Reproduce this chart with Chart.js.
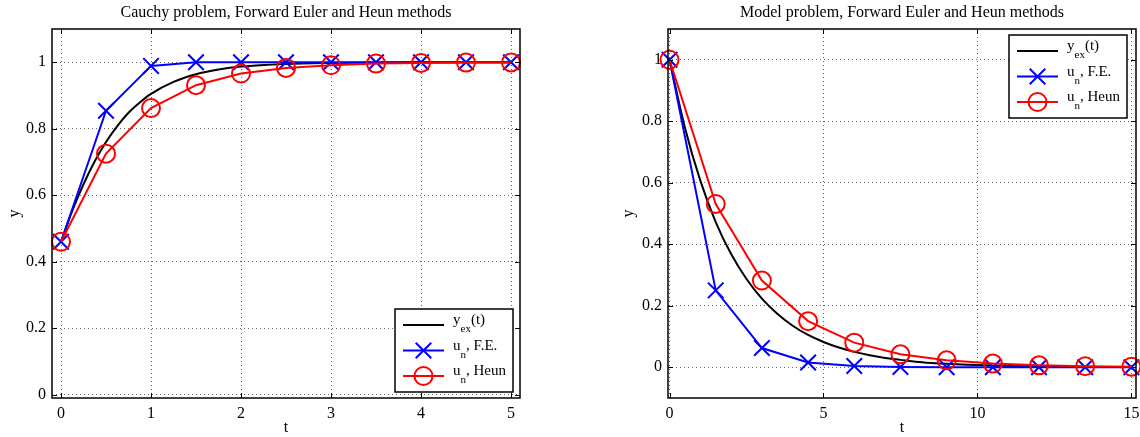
<!DOCTYPE html>
<html>
<head>
<meta charset="utf-8">
<title>Forward Euler and Heun methods</title>
<script src="https://cdn.jsdelivr.net/npm/chart.js@4.4.0/dist/chart.umd.min.js"></script>
<style>
  body { margin: 0; background: #fff; }
  #wrap { position: relative; width: 1140px; height: 437px; overflow: hidden; }
  canvas { position: absolute; top: 0; }
  #cauchyChart { left: 0; }
  #modelChart { left: 570px; }
</style>
</head>
<body>
<div id="wrap">
  <canvas id="cauchyChart" width="570" height="437"></canvas>
  <canvas id="modelChart" width="600" height="437"></canvas>
</div>
<script>
'use strict';

// left panel: Cauchy problem
let cauchyExactT = [0, 0.125, 0.25, 0.375, 0.5, 0.625, 0.75, 0.875, 1, 1.25, 1.5, 1.75, 2, 2.5, 3, 3.5, 4, 4.5, 5];
let cauchyExactY = [0.46, 0.553, 0.633, 0.702, 0.760, 0.808, 0.848, 0.879, 0.905, 0.941, 0.964, 0.978, 0.987, 0.995, 0.998, 0.9993, 0.9997, 0.9999, 1.0];
let cauchyStepT = [0, 0.5, 1, 1.5, 2, 2.5, 3, 3.5, 4, 4.5, 5];
let cauchyEuler = [0.46, 0.854, 0.989, 1.0, 1.0, 1.0, 1.0, 1.0, 1.0, 1.0, 1.0];
let cauchyHeun = [0.46, 0.725, 0.862, 0.931, 0.966, 0.983, 0.991, 0.996, 0.998, 0.999, 0.9995];
let cauchyXTicks = [0, 1, 2, 3, 4, 5];
let cauchyYTicks = [0, 0.2, 0.4, 0.6, 0.8, 1];

// right panel: model problem
let modelExactT = [0, 0.5, 1, 1.5, 2, 2.5, 3, 3.5, 4, 4.5, 5, 5.5, 6, 6.5, 7, 7.5, 8, 8.5, 9, 9.5, 10, 11, 12, 13, 14, 15];
let modelExactY = [1, 0.779, 0.607, 0.472, 0.368, 0.287, 0.223, 0.174, 0.135, 0.105, 0.082, 0.064, 0.050, 0.039, 0.030, 0.024, 0.018, 0.014, 0.011, 0.009, 0.007, 0.004, 0.0025, 0.0015, 0.0009, 0.0006];
let modelStepT = [0, 1.5, 3, 4.5, 6, 7.5, 9, 10.5, 12, 13.5, 15];
let modelEuler = [1, 0.25, 0.0625, 0.0156, 0.0039, 0.001, 0.0002, 0.0001, 0, 0, 0];
let modelHeun = [1, 0.531, 0.282, 0.150, 0.080, 0.042, 0.0225, 0.012, 0.0063, 0.0034, 0.0018];
let modelXTicks = [0, 5, 10, 15];
let modelYTicks = [0, 0.2, 0.4, 0.6, 0.8, 1];

let legendLabels = [
  { main: 'y', sub: 'ex', rest: '(t)' },
  { main: 'u', sub: 'n', rest: ', F.E.' },
  { main: 'u', sub: 'n', rest: ', Heun' }
];

let serif = "'Liberation Serif', 'Times New Roman', serif";
Chart.defaults.font.family = serif;
Chart.defaults.font.size = 16;
Chart.defaults.color = '#000';

function toPoints(xs, ys) {
  return xs.map((x, i) => ({ x: x, y: ys[i] }));
}

function drawCross(ctx, x, y, r) {
  let d = r * Math.SQRT1_2;
  ctx.beginPath();
  ctx.moveTo(x - d, y - d); ctx.lineTo(x + d, y + d);
  ctx.moveTo(x - d, y + d); ctx.lineTo(x + d, y - d);
  ctx.stroke();
}

// box round the axes, inward ticks and the legend, like matlab draws them
let matlabBox = {
  id: 'matlabBox',
  afterDraw(chart, args, opts) {
    let ctx = chart.ctx;
    let a = chart.chartArea;
    let xs = chart.scales.x;
    let ys = chart.scales.y;
    ctx.save();
    ctx.strokeStyle = '#000';
    ctx.lineWidth = 1;
    ctx.beginPath();
    xs.ticks.forEach(t => {
      let px = Math.round(xs.getPixelForValue(t.value)) + 0.5;
      ctx.moveTo(px, a.bottom); ctx.lineTo(px, a.bottom - 5);
      ctx.moveTo(px, a.top); ctx.lineTo(px, a.top + 5);
    });
    ys.ticks.forEach(t => {
      let py = Math.round(ys.getPixelForValue(t.value)) + 0.5;
      ctx.moveTo(a.left, py); ctx.lineTo(a.left + 5, py);
      ctx.moveTo(a.right, py); ctx.lineTo(a.right - 5, py);
    });
    ctx.stroke();
    ctx.lineWidth = 1.5;
    ctx.strokeRect(a.left, a.top, a.right - a.left, a.bottom - a.top);

    // legend
    let w = 118, h = 83;
    let left = a.right - opts.gapRight - w;
    let top = opts.corner === 'bottom' ? a.bottom - opts.gapY - h : a.top + opts.gapY;
    ctx.fillStyle = '#fff';
    ctx.fillRect(left, top, w, h);
    ctx.strokeRect(left, top, w, h);
    let rows = [16, 41.5, 67];
    chart.data.datasets.forEach((ds, i) => {
      let cy = top + rows[i];
      ctx.strokeStyle = ds.borderColor;
      ctx.lineWidth = 2;
      ctx.beginPath();
      ctx.moveTo(left + 8, cy); ctx.lineTo(left + 49, cy);
      ctx.stroke();
      if (ds.pointStyle === 'crossRot') {
        drawCross(ctx, left + 28.5, cy, 11);
      } else if (ds.pointRadius > 0) {
        ctx.beginPath();
        ctx.arc(left + 28.5, cy, 9, 0, Math.PI * 2);
        ctx.stroke();
      }
      let lab = legendLabels[i];
      let tx = left + 58;
      ctx.fillStyle = '#000';
      ctx.textBaseline = 'alphabetic';
      ctx.textAlign = 'left';
      ctx.font = '15px ' + serif;
      ctx.fillText(lab.main, tx, cy - 1);
      tx += ctx.measureText(lab.main).width;
      ctx.font = '11px ' + serif;
      ctx.fillText(lab.sub, tx, cy + 7);
      tx += ctx.measureText(lab.sub).width;
      ctx.font = '15px ' + serif;
      ctx.fillText(lab.rest, tx, cy - 1);
    });
    ctx.restore();
  }
};

function makeChart(id, cfg) {
  let datasets = [
    {
      label: 'y_ex(t)',
      data: toPoints(cfg.exactT, cfg.exactY),
      borderColor: '#000000',
      borderWidth: 2,
      pointRadius: 0,
      cubicInterpolationMode: 'monotone',
      clip: false,
      order: 3
    },
    {
      label: 'u_n, F.E.',
      data: toPoints(cfg.stepT, cfg.euler),
      borderColor: '#0000ff',
      borderWidth: 2,
      pointStyle: 'crossRot',
      pointRadius: 11,
      pointBorderWidth: 2,
      pointBorderColor: '#0000ff',
      pointBackgroundColor: 'rgba(0,0,0,0)',
      clip: false,
      order: 2
    },
    {
      label: 'u_n, Heun',
      data: toPoints(cfg.stepT, cfg.heun),
      borderColor: '#ff0000',
      borderWidth: 2,
      pointStyle: 'circle',
      pointRadius: 9,
      pointBorderWidth: 2,
      pointBorderColor: '#ff0000',
      pointBackgroundColor: 'rgba(0,0,0,0)',
      clip: false,
      order: 1
    }
  ];

  let gridStyle = { color: 'rgba(0,0,0,0.6)', lineWidth: 1, drawTicks: false };

  return new Chart(document.getElementById(id), {
    type: 'line',
    data: { datasets: datasets },
    options: {
      responsive: false,
      animation: false,
      events: [],
      layout: { padding: cfg.padding },
      plugins: {
        legend: { display: false },
        tooltip: { enabled: false },
        title: {
          display: true,
          text: cfg.title,
          fullSize: false,
          color: '#000',
          font: { size: 16, weight: 'normal', lineHeight: 1.2 },
          padding: { top: 3, bottom: 6.8 }
        },
        matlabBox: cfg.legend
      },
      scales: {
        x: {
          type: 'linear',
          min: cfg.xMin,
          max: cfg.xMax,
          grid: gridStyle,
          border: { display: false, dash: [1, 3] },
          ticks: { padding: 6, font: { size: 16 }, callback: v => String(v) },
          afterBuildTicks: s => { s.ticks = cfg.xTicks.map(v => ({ value: v })); },
          afterFit: s => { s.height = 39; s.paddingLeft = 0; s.paddingRight = 0; },
          title: { display: true, text: 't', font: { size: 16 }, padding: { top: 0, bottom: 0 } }
        },
        y: {
          type: 'linear',
          min: cfg.yMin,
          max: cfg.yMax,
          grid: gridStyle,
          border: { display: false, dash: [1, 3] },
          ticks: { padding: 6, font: { size: 16 }, callback: v => String(v) },
          afterBuildTicks: s => { s.ticks = cfg.yTicks.map(v => ({ value: v })); },
          afterFit: s => { s.width = cfg.yWidth; s.paddingTop = 0; s.paddingBottom = 0; },
          title: { display: true, text: 'y', font: { size: 16 }, padding: { top: 5, bottom: 0 } }
        }
      }
    },
    plugins: [matlabBox]
  });
}

makeChart('cauchyChart', {
  title: 'Cauchy problem, Forward Euler and Heun methods',
  exactT: cauchyExactT, exactY: cauchyExactY,
  stepT: cauchyStepT, euler: cauchyEuler, heun: cauchyHeun,
  xTicks: cauchyXTicks, yTicks: cauchyYTicks,
  xMin: -0.1, xMax: 5.1, yMin: -0.01, yMax: 1.1,
  padding: { left: 0, right: 50, top: 0, bottom: 0 },
  yWidth: 52,
  legend: { corner: 'bottom', gapRight: 7, gapY: 6 }
});

// this canvas runs past the window edge so the last tick label can be cut like the original
makeChart('modelChart', {
  title: 'Model problem, Forward Euler and Heun methods',
  exactT: modelExactT, exactY: modelExactY,
  stepT: modelStepT, euler: modelEuler, heun: modelHeun,
  xTicks: modelXTicks, yTicks: modelYTicks,
  xMin: -0.05, xMax: 15.15, yMin: -0.1, yMax: 1.1,
  padding: { left: 44, right: 34, top: 0, bottom: 0 },
  yWidth: 54,
  legend: { corner: 'top', gapRight: 9, gapY: 6 }
});
</script>
</body>
</html>
